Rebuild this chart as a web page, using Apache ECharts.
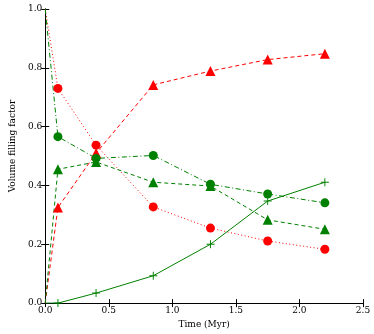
<!DOCTYPE html>
<html><head><meta charset="utf-8">
<script src="https://cdn.jsdelivr.net/npm/echarts@6/dist/echarts.min.js"></script>
<style>html,body{margin:0;padding:0;background:#fff}#c{width:374px;height:334px}</style>
</head><body><div id="c"></div>
<script>
const times = [0.0, 0.1, 0.4, 0.85, 1.3, 1.75, 2.2];
const redCircle = [1.0, 0.73, 0.537, 0.327, 0.255, 0.211, 0.183];
const redTriangle = [0.0, 0.325, 0.51, 0.742, 0.789, 0.828, 0.848];
const greenCircle = [1.0, 0.566, 0.492, 0.502, 0.404, 0.371, 0.341];
const greenTriangle = [0.0, 0.455, 0.48, 0.411, 0.398, 0.283, 0.251];
const greenPlus = [0.0, 0.0, 0.034, 0.093, 0.2, 0.347, 0.411];
const xTicks = ['0.0','0.5','1.0','1.5','2.0','2.5'];

const RED = '#ff0000', GREEN = '#008000';
const plus = 'path://M-0.12,-1H0.12V-0.12H1V0.12H0.12V1H-0.12V0.12H-1V-0.12H-0.12Z';
const serif = 'DejaVu Serif';
function pts(vals){ return times.map((t,i)=>t===0 ? {value:[t, vals[i]], symbol:'none'} : [t, vals[i]]); }
function mk(name, vals, color, dash, symbol, size){
  return {name, type:'line', data: pts(vals), symbol, symbolSize:size, symbolKeepAspect:true,
    showAllSymbol:true, clip:true, animation:false,
    lineStyle:{color, width:1, type:dash}, itemStyle:{color, borderWidth:0}};
}
const chart = echarts.init(document.getElementById('c'));
const axisCommon = {
  axisLine:{show:true, lineStyle:{color:'#000', width:1}},
  axisTick:{show:true, inside:true, length:4, lineStyle:{color:'#000'}},
  splitLine:{show:false}
};
chart.setOption({
  animation:false,
  grid:{left:34, right:11, top:9, bottom:28},
  xAxis:[
    Object.assign({type:'value', min:0, max:2.5, interval:0.5, position:'bottom',
      name:'Time (Myr)', nameLocation:'middle', nameGap:14,
      nameTextStyle:{fontFamily:serif, fontSize:9, color:'#000'},
      axisLabel:{fontFamily:serif, fontSize:9, color:'#000', margin:3,
        formatter:v=>xTicks[Math.round(v/0.5)]}}, axisCommon),
    Object.assign({type:'value', min:0, max:2.5, interval:0.5, position:'top',
      axisLabel:{show:false}}, axisCommon)
  ],
  yAxis:[
    Object.assign({type:'value', min:0, max:1, interval:0.2, position:'left',
      name:'Volume filling factor', nameLocation:'middle', nameGap:21,
      nameTextStyle:{fontFamily:serif, fontSize:9, color:'#000', padding:[0,0,0,20]},
      axisLabel:{fontFamily:serif, fontSize:9, color:'#000', margin:3,
        formatter:v=>v.toFixed(1)}}, axisCommon),
    Object.assign({type:'value', min:0, max:1, interval:0.2, position:'right',
      axisLabel:{show:false}}, axisCommon)
  ],
  series:[
    mk('redCircle', redCircle, RED, [1,2.5], 'circle', 9),
    mk('redTriangle', redTriangle, RED, [4,3], 'triangle', 10),
    mk('greenCircle', greenCircle, GREEN, [5,2.5,1,2.5], 'circle', 9),
    mk('greenTriangle', greenTriangle, GREEN, [4,3], 'triangle', 10),
    mk('greenPlus', greenPlus, GREEN, 'solid', plus, 8)
  ]
});
</script></body></html>
